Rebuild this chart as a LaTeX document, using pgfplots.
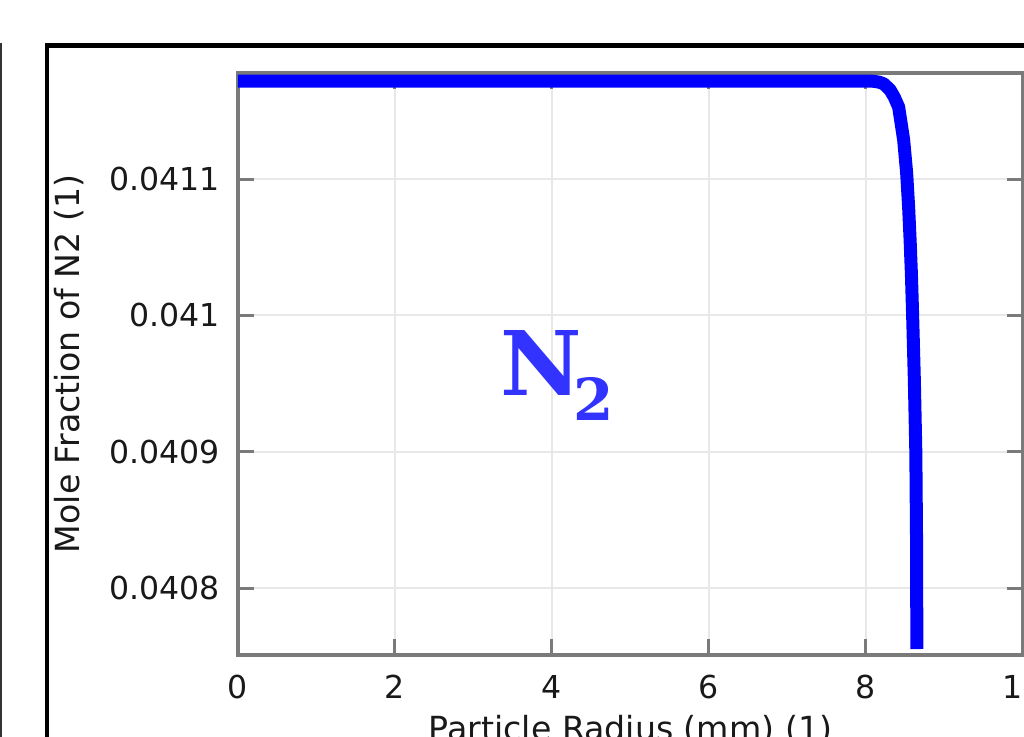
\documentclass[border=0pt]{standalone}
\usepackage{pgfplots}
\pgfplotsset{compat=1.18}
\usepackage{fontspec}
\setmainfont{DejaVu Sans}
\newfontfamily\nfont{DejaVu Serif}
\definecolor{axgray}{RGB}{122,122,122}
\definecolor{gridgray}{RGB}{232,232,232}
\definecolor{curveblue}{RGB}{0,0,255}
\definecolor{labelblue}{RGB}{51,51,255}
\begin{document}
\begin{tikzpicture}
\begin{axis}[
  name=ax,
  at={(0,0)}, anchor=south west,
  scale only axis,
  width=392.5pt, height=291pt,
  xmin=0, xmax=10,
  ymin=0.0407509, ymax=0.0411778,
  xtick={0,2,4,6,8,10},
  ytick={0.0408,0.0409,0.041,0.0411},
  yticklabels={0.0408,0.0409,0.041,0.0411},
  scaled y ticks=false,
  /pgf/number format/assume math mode=true,
  tick pos=both,
  tick align=inside,
  major tick length=8pt,
  every tick/.style={axgray, line width=1.5pt},
  axis line style={axgray, line width=1.8pt},
  grid=major,
  major grid style={gridgray, line width=1pt},
  tick label style={font=\fontsize{15.8}{18}\selectfont, text=black!90},
  xticklabel style={anchor=center, inner sep=0pt, yshift=-15.75pt},
  yticklabel style={anchor=east, inner sep=0pt, xshift=-9pt},
  xlabel={Particle Radius (mm) (1)},
  ylabel={Mole Fraction of N2 (1)},
  every axis x label/.style={at={(axis description cs:0.5,-0.1031)}, anchor=north, inner sep=0pt, font=\fontsize{16.6}{18}\selectfont, text=black!90},
  every axis y label/.style={at={(axis description cs:-0.2153,0.5)}, rotate=90, anchor=center, inner sep=0pt, font=\fontsize{16.6}{18}\selectfont, text=black!90},
]
\addplot[curveblue, line width=6.5pt, line join=round] coordinates {
(0,0.0411719)
(4,0.0411719)
(8.041,0.0411719)
(8.10,0.0411717)
(8.168,0.0411711)
(8.23,0.0411697)
(8.308,0.0411653)
(8.36,0.0411601)
(8.416,0.0411528)
(8.480,0.0411286)
(8.518,0.0411044)
(8.543,0.0410795)
(8.562,0.0410553)
(8.579,0.0410296)
(8.594,0.0410002)
(8.616,0.0409526)
(8.635,0.0408990)
(8.645,0.0408279)
(8.6476,0.0407553)
};
\end{axis}
\node[anchor=base west, inner sep=0pt, text=labelblue] at ([shift={(131pt,130pt)}]ax.south west)
  {\nfont\bfseries\fontsize{44.6}{46}\selectfont N\kern-4pt\raisebox{-12.5pt}{\fontsize{29}{30}\selectfont 2}};
\draw[black, line width=2.2pt] ([shift={(-95.5pt,-100pt)}]ax.south west) -- ([shift={(-95.5pt,304.75pt)}]ax.south west) -- ([shift={(500pt,304.75pt)}]ax.south west);
\draw[black!80, line width=1pt] ([shift={(-118.6pt,-100pt)}]ax.south west) -- ([shift={(-118.6pt,306pt)}]ax.south west);
\pgfresetboundingbox
\path[use as bounding box] ([shift={(-119pt,-40.5pt)}]ax.south west) rectangle ([shift={(393pt,327.5pt)}]ax.south west);
\end{tikzpicture}
\end{document}
